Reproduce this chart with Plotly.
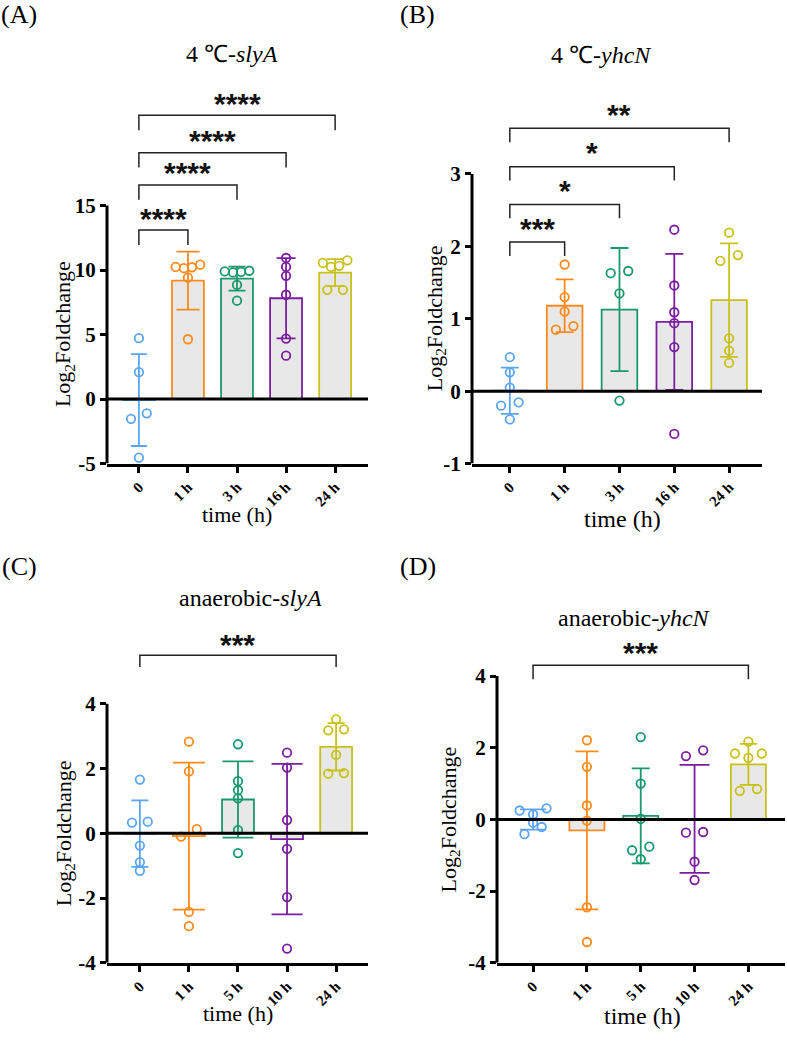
import numpy as np
import plotly.graph_objects as go

W, H = 787, 1042

# ---------------- data ----------------
cats_A = ["0", "1 h", "3 h", "16 h", "24 h"]
cats_B = ["0", "1 h", "3 h", "16 h", "24 h"]
cats_C = ["0", "1 h", "5 h", "10 h", "24 h"]
cats_D = ["0", "1 h", "5 h", "10 h", "24 h"]

A_0 = [4.72, 2.09, -1.10, -1.53, -4.54]
A_1h = [10.15, 10.42, 10.22, 10.25, 9.41, 4.64]
A_3h = [9.82, 9.90, 9.86, 9.95, 8.85, 7.63]
A_16h = [10.94, 10.25, 9.56, 8.09, 4.69, 3.37]
A_24h = [10.25, 10.33, 10.56, 10.76, 8.47, 8.47]

B_0 = [0.47, 0.26, 0.05, -0.155, -0.20, -0.39]
B_1h = [1.75, 1.30, 1.10, 0.85, 0.90]
B_3h = [1.63, 1.66, 1.35, -0.13]
B_16h = [2.23, 1.46, 1.09, 0.94, 0.61, -0.59]
B_24h = [2.19, 1.88, 1.80, 0.73, 0.56, 0.39]

C_0 = [1.66, 0.36, 0.33, -0.38, -0.89, -1.16]
C_1h = [2.83, 1.91, 0.13, -0.10, -2.43, -2.87]
C_5h = [2.75, 1.61, 1.33, 1.08, 0.10, -0.61]
C_10h = [2.49, 2.03, 0.41, -0.48, -1.97, -3.56]
C_24h = [3.52, 3.21, 3.18, 2.42, 1.84, 1.86]

D_0 = [0.25, 0.31, 0.14, -0.09, -0.21, -0.41]
D_1h = [2.21, 1.47, 0.39, -0.03, -2.45, -3.42]
D_5h = [2.30, 1.00, 0.02, -0.76, -0.86, -1.11]
D_10h = [1.77, 1.93, -0.37, -0.35, -1.18, -1.69]
D_24h = [2.17, 1.84, 1.72, 1.84, 0.80, 0.85]

# significance brackets: (from group, to group, bracket level, label)
sig_A = [(0, 1, 13.1, "****"), (0, 2, 16.6, "****"), (0, 3, 19.1, "****"), (0, 4, 22.0, "****")]
sig_B = [(0, 1, 2.06, "***"), (0, 2, 2.58, "*"), (0, 3, 3.10, "*"), (0, 4, 3.63, "**")]
sig_C = [(0, 4, 5.50, "***")]
sig_D = [(0, 4, 4.30, "***")]

yt_A = [-5, 0, 5, 10, 15]
yt_B = [-1, 0, 1, 2, 3]
yt_C = [-4, -2, 0, 2, 4]
yt_D = [-4, -2, 0, 2, 4]

titles = ["4 \u2103-<i>slyA</i>", "4 \u2103-<i>yhcN</i>",
          "anaerobic-<i>slyA</i>", "anaerobic-<i>yhcN</i>"]
letters = ["(A)", "(B)", "(C)", "(D)"]

# ---------------- style / layout ----------------
colors = ["#5AA5F4", "#FF8A1C", "#18996B", "#7A1E9E", "#C8C11A"]
SERIF = "Liberation Serif"
SANS = "Liberation Sans"

panels = [
    dict(xa="x", ya="y", cats=cats_A, groups=[A_0, A_1h, A_3h, A_16h, A_24h], sig=sig_A, yt=yt_A,
         left=107, right=368, bottom=469, ymin=-5, ytop=15, ppu=13.05, yext=24.5, xr=[-0.65, 4.67],
         caps=[8, 11.5, 8.5, 9.5, 8.5], leg=15, star=17,
         title_xy=(232, 55), letter_xy=(19, 15), ytitle_xy=(64, 338), xtitle_xy=(237, 520), xtitle_size=22),
    dict(xa="x2", ya="y2", cats=cats_B, groups=[B_0, B_1h, B_3h, B_16h, B_24h], sig=sig_B, yt=yt_B,
         left=472, right=762, bottom=469, ymin=-1, ytop=3, ppu=73.25, yext=4.2, xr=[-0.69, 4.6],
         caps=[9, 9, 9, 9, 9], leg=14, star=19,
         title_xy=(601, 56), letter_xy=(418, 15), ytitle_xy=(436, 322), xtitle_xy=(622, 525), xtitle_size=24),
    dict(xa="x3", ya="y3", cats=cats_C, groups=[C_0, C_1h, C_5h, C_10h, C_24h], sig=sig_C, yt=yt_C,
         left=107, right=368, bottom=974, ymin=-4, ytop=4, ppu=32.75, yext=6.6, xr=[-0.67, 4.65],
         caps=[8.5, 16, 15.5, 15.5, 8.5], leg=12, star=16,
         title_xy=(250, 605), letter_xy=(19, 573), ytitle_xy=(65, 843), xtitle_xy=(238, 1025), xtitle_size=22),
    dict(xa="x4", ya="y4", cats=cats_D, groups=[D_0, D_1h, D_5h, D_10h, D_24h], sig=sig_D, yt=yt_D,
         left=497, right=785, bottom=974, ymin=-4, ytop=4, ppu=36.25, yext=5.3, xr=[-0.67, 4.68],
         caps=[13, 11.5, 9, 15, 8.5], leg=14, star=18,
         title_xy=(634, 625), letter_xy=(418, 573), ytitle_xy=(450, 829), xtitle_xy=(642, 1028), xtitle_size=24),
]

BAR_W = 0.65


def swarm_offsets(vals, ppu, thr_px=8.0, step=0.32, maxspread=0.5):
    """Prism-like scatter: points overlapping vertically share a centred row."""
    vals = np.asarray(vals, dtype=float)
    order = np.argsort(vals)
    offs = np.zeros(len(vals))
    rows, cur = [], [order[0]]
    for idx in order[1:]:
        if (vals[idx] - vals[cur[0]]) * ppu < thr_px:
            cur.append(idx)
        else:
            rows.append(cur)
            cur = [idx]
    rows.append(cur)
    for row in rows:
        n = len(row)
        if n == 1:
            continue
        s = min(step, maxspread / (n - 1))
        slots = sorted([(k - (n - 1) / 2) * s for k in range(n)], key=lambda v: (abs(v), v))
        for idx, sl in zip(row, slots):
            offs[idx] = sl
    return offs


def pxx(v):
    return v / W


def pxy(v):
    return 1 - v / H


fig = go.Figure()
shapes, annotations = [], []
layout_axes = {}

for k, p in enumerate(panels):
    xa, ya = p["xa"], p["ya"]
    top = p["bottom"] - (p["yext"] - p["ymin"]) * p["ppu"]
    ppu = p["ppu"]
    for i, (vals, col) in enumerate(zip(p["groups"], colors)):
        arr = np.asarray(vals, dtype=float)
        m = arr.mean()
        sd = arr.std(ddof=1)
        fig.add_trace(go.Bar(
            x=[i], y=[m], width=BAR_W, xaxis=xa, yaxis=ya, showlegend=False,
            marker=dict(color="#E8E8E8", line=dict(color=col, width=1.8)),
            error_y=dict(type="data", array=[sd], visible=True, color=col,
                         thickness=1.8, width=p["caps"][i]),
            hoverinfo="skip"))
        offs = swarm_offsets(arr, ppu)
        fig.add_trace(go.Scatter(
            x=i + offs, y=arr, mode="markers", xaxis=xa, yaxis=ya, showlegend=False,
            cliponaxis=False,
            marker=dict(symbol="circle-open", size=8.5, color=col, line=dict(width=1.8, color=col))))

    # y spine (only up to last tick) and zero line
    shapes.append(dict(type="line", xref=f"{xa} domain", yref=ya, x0=0, x1=0,
                       y0=p["ymin"], y1=p["ytop"], line=dict(color="black", width=3), layer="above"))
    shapes.append(dict(type="line", xref=f"{xa} domain", yref=ya, x0=0, x1=1,
                       y0=0, y1=0, line=dict(color="black", width=3), layer="above"))

    # significance brackets
    for (g0, g1, lev, lab) in p["sig"]:
        legv = lev - p["leg"] / ppu
        shapes.append(dict(type="path", xref=xa, yref=ya,
                           path=f"M {g0},{legv} L {g0},{lev} L {g1},{lev} L {g1},{legv}",
                           line=dict(color="#222222", width=1.5)))
        annotations.append(dict(x=(g0 + g1) / 2, y=lev, xref=xa, yref=ya, text=lab,
                                showarrow=False, yanchor="middle", yshift=p["star"] - 5,
                                font=dict(family=SANS, size=30, color="#111111", weight="bold")))

    # texts
    annotations.append(dict(x=pxx(p["title_xy"][0]), y=pxy(p["title_xy"][1]), xref="paper", yref="paper",
                            text=titles[k], showarrow=False, xanchor="center", yanchor="middle",
                            font=dict(family=SERIF, size=24, color="black")))
    annotations.append(dict(x=pxx(p["letter_xy"][0]), y=pxy(p["letter_xy"][1]), xref="paper", yref="paper",
                            text=letters[k], showarrow=False, xanchor="center", yanchor="middle",
                            font=dict(family=SERIF, size=26, color="black")))
    annotations.append(dict(x=pxx(p["ytitle_xy"][0]), y=pxy(p["ytitle_xy"][1]), xref="paper", yref="paper",
                            text="Log<sub>2</sub>Foldchange", textangle=-90, showarrow=False,
                            xanchor="center", yanchor="middle",
                            font=dict(family=SERIF, size=22, color="black")))
    annotations.append(dict(x=pxx(p["xtitle_xy"][0]), y=pxy(p["xtitle_xy"][1]), xref="paper", yref="paper",
                            text="time (h)", showarrow=False, xanchor="center", yanchor="middle",
                            font=dict(family=SERIF, size=p["xtitle_size"], color="black")))

    xkey = "xaxis" + xa[1:]
    ykey = "yaxis" + ya[1:]
    layout_axes[xkey] = dict(
        domain=[pxx(p["left"]), pxx(p["right"])], range=p["xr"], anchor=ya,
        tickmode="array", tickvals=list(range(len(p["cats"]))), ticktext=p["cats"],
        tickangle=-45, ticks="outside", ticklen=6, tickwidth=2.5, tickcolor="black",
        tickfont=dict(family=SERIF, size=15, color="black", weight="bold"),
        showline=True, linewidth=3, linecolor="black", showgrid=False, zeroline=False,
        fixedrange=True)
    layout_axes[ykey] = dict(
        domain=[pxy(p["bottom"]), pxy(top)], range=[p["ymin"], p["yext"]], anchor=xa,
        tickmode="array", tickvals=p["yt"], ticktext=[str(v) for v in p["yt"]],
        ticks="outside", ticklen=6, tickwidth=3, tickcolor="black",
        tickfont=dict(family=SERIF, size=21, color="black", weight="bold"),
        showline=False, showgrid=False, zeroline=False, fixedrange=True)

fig.update_layout(
    width=W, height=H, margin=dict(l=0, r=0, t=0, b=0),
    paper_bgcolor="white", plot_bgcolor="white", barmode="overlay",
    shapes=shapes, annotations=annotations, showlegend=False, **layout_axes)

fig.write_html("out.html", config={"displayModeBar": False})
